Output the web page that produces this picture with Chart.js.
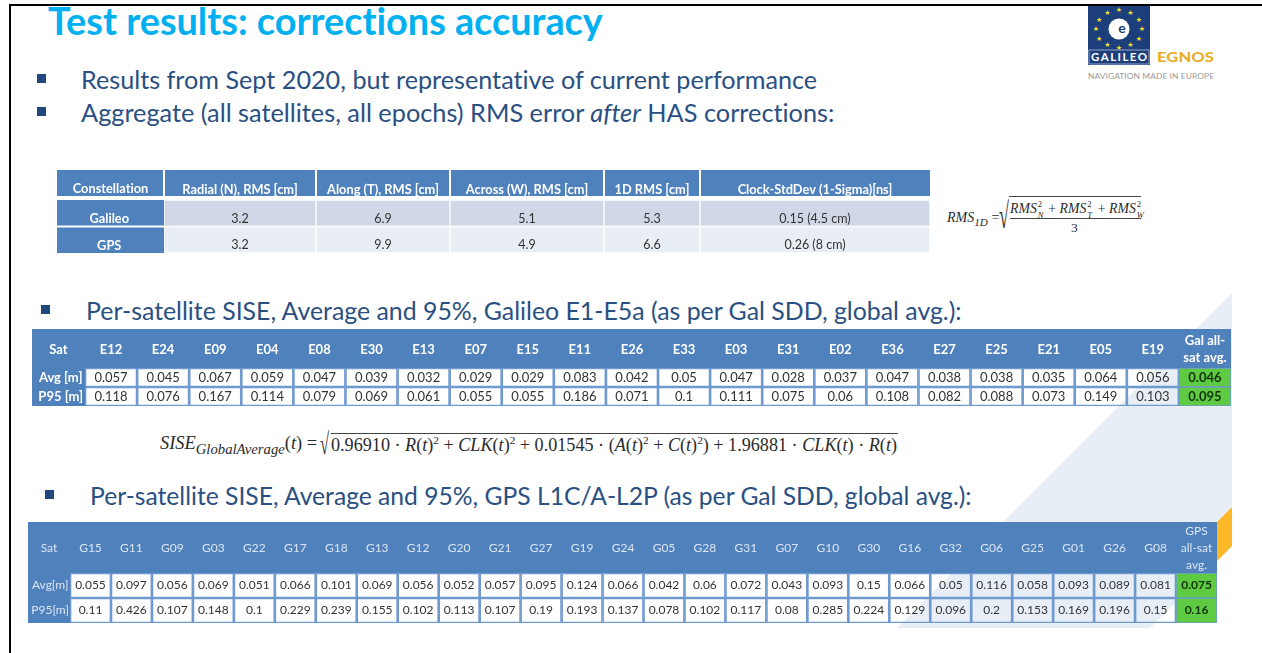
<!DOCTYPE html>
<html>
<head>
<meta charset="utf-8">
<title>Test results: corrections accuracy</title>
<script src="https://cdn.jsdelivr.net/npm/chart.js@4"></script>
<style>
  html, body { margin: 0; padding: 0; background: #fff; width: 1262px; height: 653px; overflow: hidden; font-family: Lato, sans-serif; font-variant-ligatures: none; }
  .abs { position: absolute; white-space: nowrap; }
  canvas { position: absolute; }
  .frame-top { left: 9px; top: 4px; width: 1253px; height: 2px; background: #000; }
  .frame-left { left: 9px; top: 4px; width: 2px; height: 649px; background: #000; }
  .title { left: 48px; top: -1px; font-size: 37.8px; font-weight: 700; color: #00b0f0; line-height: 44px; }
  .bullet { width: 9px; height: 9px; background: #1f497d; }
  .line { color: #2a5082; line-height: 32px; }
  .math { font-family: "Liberation Serif", serif; color: #2b2b2b; }
  .math i { font-style: italic; }
  .math sub { font-size: 80%; line-height: 0; font-style: italic; }
  .math sup { font-size: 62%; line-height: 0; }
  .ss { display: inline-block; position: relative; width: 8px; height: 1em; font-size: 62%; font-style: italic; }
  .ss b, .ss u { position: absolute; left: 1px; font-weight: 400; text-decoration: none; line-height: 1; }
  .ss b { top: -4px; font-style: normal; }
  .ss u { top: 7px; }
  .root { border-top: 1px solid #444; }
  .back { left: 0; top: 0; width: 1262px; height: 653px; }
</style>
</head>
<body>
<div class="abs back" style="background:#e8eef6;clip-path:polygon(1232px 293px,897px 628px,1150px 628px,1232px 546px)"></div>
<div class="abs back" style="background:#fdb827;clip-path:polygon(1232px 507px,1217px 522px,1217px 561px,1232px 546px)"></div>
<div class="abs frame-top"></div>
<div class="abs frame-left"></div>

<div class="abs title">Test results: corrections accuracy</div>
<div class="abs bullet" style="left:37px;top:74px"></div>
<div class="abs line" style="left:81px;top:63px;font-size:25.2px">Results from Sept 2020, but representative of current performance</div>
<div class="abs bullet" style="left:37px;top:107px"></div>
<div class="abs line" style="left:81px;top:96px;font-size:25.3px">Aggregate (all satellites, all epochs) RMS error <i>after</i> HAS corrections:</div>
<div class="abs bullet" style="left:41px;top:305px"></div>
<div class="abs line" style="left:86px;top:294px;font-size:24.86px">Per-satellite SISE, Average and 95%, Galileo E1-E5a (as per Gal SDD, global avg.):</div>
<div class="abs bullet" style="left:45px;top:490px"></div>
<div class="abs line" style="left:90px;top:480px;font-size:24.66px">Per-satellite SISE, Average and 95%, GPS L1C/A-L2P (as per Gal SDD, global avg.):</div>

<!-- logo -->
<svg class="abs" id="logo" style="left:1080px;top:0" width="182" height="90">
  <rect x="8" y="6" width="62" height="59" fill="#1c3f7c"/>
  <circle cx="39" cy="29" r="10.5" fill="#fff"/>
  <text x="42" y="33" font-family="Lato" font-weight="700" font-size="14" fill="#1c3f7c" text-anchor="middle">e</text>
  <rect x="9" y="50" width="60" height="14" fill="#1c3f7c" stroke="#dfe6f2" stroke-width="0.6"/>
  <text x="11" y="61" font-family="Lato" font-weight="700" font-size="11.5" fill="#fff" textLength="56">GALILEO</text>
  <text x="77" y="62" font-family="Lato" font-weight="900" font-size="14" fill="#e8af2a" textLength="57" lengthAdjust="spacingAndGlyphs">EGNOS</text>
  <text x="8" y="79" font-family="Lato" font-size="8.4" fill="#9a9a9a" textLength="126">NAVIGATION MADE IN EUROPE</text>
</svg>

<!-- formulas -->
<div class="abs math" style="left:947px;top:210px;font-size:14px"><i>RMS</i><sub>1D</sub> =</div>
<div class="abs math" style="left:999px;top:194px;font-size:36px;line-height:44px;transform:scaleX(.5);transform-origin:left top">√</div>
<div class="abs math root" style="left:1009px;top:196px;width:132px"></div>
<div class="abs math" style="left:1010px;top:200px;font-size:13.8px;border-bottom:1px solid #444;width:131px;line-height:18px"><i>RMS</i><span class="ss"><b>2</b><u>N</u></span> + <i>RMS</i><span class="ss"><b>2</b><u>T</u></span> + <i>RMS</i><span class="ss"><b>2</b><u>W</u></span></div>
<div class="abs math" style="left:1071px;top:220px;font-size:13.5px">3</div>

<div class="abs math" style="left:160px;top:432px;font-size:18.4px;line-height:22px"><i>SISE</i><sub>GlobalAverage</sub>(<i>t</i>) =</div>
<div class="abs math" style="left:320px;top:426px;font-size:30px;line-height:36px;transform:scaleX(.55);transform-origin:left top">√</div>
<div class="abs math root" style="left:331px;top:433px;width:567px;font-size:18.15px;line-height:22px">0.96910 · <i>R</i>(<i>t</i>)<sup>2</sup> + <i>CLK</i>(<i>t</i>)<sup>2</sup> + 0.01545 · (<i>A</i>(<i>t</i>)<sup>2</sup> + <i>C</i>(<i>t</i>)<sup>2</sup>) + 1.96881 · <i>CLK</i>(<i>t</i>) · <i>R</i>(<i>t</i>)</div>

<canvas id="rmsTable" width="873" height="83" style="left:57px;top:170px"></canvas>
<canvas id="galTable" width="1199" height="77" style="left:32px;top:329px"></canvas>
<canvas id="gpsTable" width="1189" height="101" style="left:28px;top:522px"></canvas>

<script>
// table 1 - aggregate RMS
const constellations = ['Galileo', 'GPS'];
const rmsColumns = ['Radial (N), RMS [cm]', 'Along (T), RMS [cm]', 'Across (W), RMS [cm]', '1D RMS [cm]', 'Clock-StdDev (1-Sigma)[ns]'];
const radialRms = [3.2, 3.2];
const alongRms = [6.9, 9.9];
const acrossRms = [5.1, 4.9];
const oneDRms = [5.3, 6.6];
const clockStd = ['0.15 (4.5 cm)', '0.26 (8 cm)'];

// table 2 - Galileo SISE
const galSats = ['E12', 'E24', 'E09', 'E04', 'E08', 'E30', 'E13', 'E07', 'E15', 'E11', 'E26', 'E33', 'E03', 'E31', 'E02', 'E36', 'E27', 'E25', 'E21', 'E05', 'E19', ['Gal all-', 'sat avg.']];
const galAvg = [0.057, 0.045, 0.067, 0.059, 0.047, 0.039, 0.032, 0.029, 0.029, 0.083, 0.042, 0.05, 0.047, 0.028, 0.037, 0.047, 0.038, 0.038, 0.035, 0.064, 0.056, 0.046];
const galP95 = [0.118, 0.076, 0.167, 0.114, 0.079, 0.069, 0.061, 0.055, 0.055, 0.186, 0.071, 0.1, 0.111, 0.075, 0.06, 0.108, 0.082, 0.088, 0.073, 0.149, 0.103, 0.095];

// table 3 - GPS SISE
const gpsSats = ['G15', 'G11', 'G09', 'G03', 'G22', 'G17', 'G18', 'G13', 'G12', 'G20', 'G21', 'G27', 'G19', 'G24', 'G05', 'G28', 'G31', 'G07', 'G10', 'G30', 'G16', 'G32', 'G06', 'G25', 'G01', 'G26', 'G08', ['GPS', 'all-sat', 'avg.']];
const gpsAvg = [0.055, 0.097, 0.056, 0.069, 0.051, 0.066, 0.101, 0.069, 0.056, 0.052, 0.057, 0.095, 0.124, 0.066, 0.042, 0.06, 0.072, 0.043, 0.093, 0.15, 0.066, 0.05, 0.116, 0.058, 0.093, 0.089, 0.081, 0.075];
const gpsP95 = [0.11, 0.426, 0.107, 0.148, 0.1, 0.229, 0.239, 0.155, 0.102, 0.113, 0.107, 0.19, 0.193, 0.137, 0.078, 0.102, 0.117, 0.08, 0.285, 0.224, 0.129, 0.096, 0.2, 0.153, 0.169, 0.196, 0.15, 0.16];

const HEADER_BLUE = '#4f81bd';
const GREEN = '#5ecb42';

// paints the header bands and writes the cell values
const tablePlugin = {
  id: 'cellTable',
  beforeDraw(chart, args, opts) {
    const { ctx, scales } = chart;
    const bandBottom = scales.x.bottom - opts.headerGap;
    ctx.save();
    ctx.fillStyle = HEADER_BLUE;
    ctx.fillRect(0, 0, chart.width, bandBottom);
    ctx.fillRect(0, scales.x.bottom, scales.y.width, chart.height - scales.x.bottom);
    if (opts.separators) {
      ctx.fillStyle = '#fff';
      opts.edges.forEach(e => ctx.fillRect(scales.x.getPixelForValue(e) - 1, 0, 2, bandBottom));
      const mid = (scales.y.getPixelForValue(0) + scales.y.getPixelForValue(1)) / 2;
      ctx.fillRect(0, mid - 1, scales.y.width, 2);
    }
    ctx.restore();
  },
  afterDatasetsDraw(chart, args, opts) {
    const { ctx, scales } = chart;
    ctx.save();
    ctx.textAlign = 'center';
    ctx.textBaseline = 'middle';
    chart.data.datasets.forEach((ds, c) => {
      const meta = chart.getDatasetMeta(c);
      ds.cellText.forEach((txt, r) => {
        const bar = meta.data[r];
        ctx.font = (ds.highlight ? 'bold ' : '') + opts.cellSize + 'px Lato';
        ctx.fillStyle = ds.highlight ? '#14330c' : '#333';
        ctx.fillText(String(txt), (bar.x + bar.base) / 2, bar.y + opts.textShift);
      });
    });
    ctx.font = opts.headFont;
    ctx.fillStyle = opts.headColor;
    ctx.fillText(opts.corner, scales.y.width / 2, (scales.x.bottom - opts.headerGap) / 2 + opts.headShift);
    ctx.restore();
  }
};

function dropPadding(scale) {
  scale.paddingLeft = scale.paddingRight = scale.paddingTop = scale.paddingBottom = 0;
}

function drawTable(id, conf) {
  const widths = conf.widths;
  const edges = [];
  widths.reduce((sum, w) => { edges.push(sum); return sum + w; }, 0);
  const total = widths.reduce((a, b) => a + b, 0);
  new Chart(document.getElementById(id), {
    type: 'bar',
    data: {
      labels: conf.rowLabels,
      datasets: conf.rows[0].map((_, c) => ({
        data: conf.rowLabels.map(() => [edges[c], edges[c] + widths[c]]),
        cellText: conf.rows.map(row => row[c]),
        highlight: conf.highlightLast && c === widths.length - 1,
        backgroundColor: conf.highlightLast && c === widths.length - 1 ? GREEN : conf.rowFills,
        borderColor: conf.gridColor,
        borderWidth: 1,
        borderSkipped: false,
        grouped: false,
        barPercentage: 1,
        categoryPercentage: 1
      }))
    },
    options: {
      indexAxis: 'y',
      responsive: false,
      animation: false,
      layout: { padding: 0 },
      plugins: {
        legend: { display: false },
        tooltip: { enabled: false },
        cellTable: {
          corner: conf.corner, headerGap: conf.headerGap, edges,
          separators: conf.separators, cellSize: conf.cellSize, textShift: conf.textShift,
          headFont: conf.headFont, headColor: conf.headColor, headShift: conf.headShift
        }
      },
      scales: {
        x: {
          position: 'top',
          min: 0,
          max: total,
          grid: { display: false, drawTicks: false },
          border: { display: false },
          afterFit(scale) { scale.height = conf.headerHeight; dropPadding(scale); },
          afterBuildTicks(scale) { scale.ticks = edges.map((e, i) => ({ value: e + widths[i] / 2 })); },
          ticks: {
            autoSkip: false,
            maxRotation: 0,
            crossAlign: 'center',
            padding: conf.headPadding,
            color: conf.headColor,
            font: { family: 'Lato', size: conf.headSize, weight: conf.headWeight, lineHeight: conf.headLine },
            callback(v, i) { return conf.columns[i]; }
          }
        },
        y: {
          grid: { display: false, drawTicks: false },
          border: { display: false },
          afterFit(scale) { scale.width = conf.firstWidth; dropPadding(scale); },
          ticks: {
            crossAlign: 'center',
            padding: conf.rowPadding,
            color: conf.headColor,
            font: { family: 'Lato', size: conf.rowSize, weight: conf.headWeight, lineHeight: conf.rowLine },
            callback(v, i) { return conf.rowLowered ? ['', conf.rowLabels[i]] : conf.rowLabels[i]; }
          }
        }
      }
    }
  });
}

Chart.register(tablePlugin);

drawTable('rmsTable', {
  rowLabels: constellations, columns: rmsColumns, corner: 'Constellation',
  rows: [radialRms, alongRms, acrossRms, oneDRms, clockStd].reduce((rows, col) => {
    col.forEach((v, r) => rows[r].push(v));
    return rows;
  }, constellations.map(() => [])),
  widths: [152, 134, 154, 96, 230],
  firstWidth: 107, headerHeight: 30, headerGap: 4, separators: true,
  rowFills: ['#d0d8e8', '#e9edf4'], gridColor: '#fff',
  cellSize: 12.5, textShift: 5.5, headSize: 12.8, rowSize: 12.8, headWeight: 'bold', headLine: 1.2,
  rowPadding: 35, rowLine: 0.9, rowLowered: true,
  headFont: 'bold 12.8px Lato', headColor: '#fff', headPadding: 10, headShift: 6
});

drawTable('galTable', {
  rowLabels: ['Avg [m]', 'P95 [m]'], columns: galSats, corner: 'Sat',
  rows: [galAvg, galP95],
  widths: galSats.map(() => 1),
  firstWidth: 53, headerHeight: 39, headerGap: 0, separators: false, highlightLast: true,
  rowFills: 'rgba(0,0,0,0)', gridColor: '#6f9ad0',
  cellSize: 13, textShift: 0.5, headSize: 13, rowSize: 13, headWeight: 'bold', headLine: 1.3,
  rowPadding: 2, rowLine: 1.2,
  headFont: 'bold 13px Lato', headColor: '#fff', headPadding: 10, headShift: 1
});

drawTable('gpsTable', {
  rowLabels: ['Avg[m]', 'P95[m]'], columns: gpsSats, corner: 'Sat',
  rows: [gpsAvg, gpsP95],
  widths: gpsSats.map(() => 1),
  firstWidth: 42, headerHeight: 51, headerGap: 0, separators: false, highlightLast: true,
  rowFills: 'rgba(0,0,0,0)', gridColor: '#6f9ad0',
  cellSize: 12, textShift: 0, headSize: 12, rowSize: 12, headWeight: 'normal', headLine: 1.4,
  rowPadding: 1, rowLine: 1.2,
  headFont: '12px Lato', headColor: '#dce6f2', headPadding: 8, headShift: 1
});

// ring of stars on the logo
const logo = document.getElementById('logo');
for (let i = 0; i < 12; i++) {
  const a = i * Math.PI / 6;
  const t = document.createElementNS('http://www.w3.org/2000/svg', 'text');
  t.setAttribute('x', 39 + 23 * Math.cos(a));
  t.setAttribute('y', 31 + 19 * Math.sin(a));
  t.setAttribute('font-size', '7');
  t.setAttribute('font-family', 'DejaVu Sans');
  t.setAttribute('fill', '#f6e02c');
  t.setAttribute('text-anchor', 'middle');
  t.textContent = '★';
  logo.appendChild(t);
}
</script>
</body>
</html>
